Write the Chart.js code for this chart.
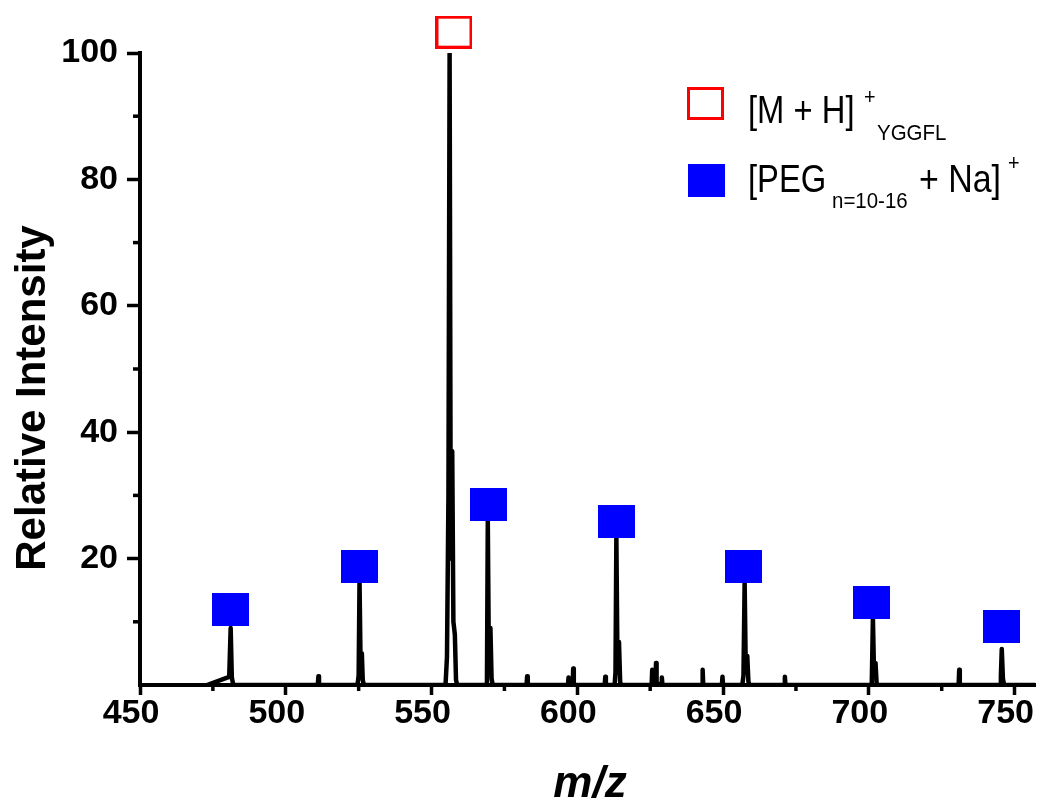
<!DOCTYPE html>
<html>
<head>
<meta charset="utf-8">
<title>YGGFL / PEG spectrum</title>
<script src="https://cdn.jsdelivr.net/npm/chart.js@4.4.0/dist/chart.umd.min.js"></script>
<style>
    body { margin: 0; background: #ffffff; }
    canvas { display: block; }
</style>
</head>
<body>
<canvas id="spectrum_canvas" width="1041" height="805"></canvas>
<script>
// spectrum trace (m/z, relative intensity)
const mz = [
    473.0, 480.6, 481.1, 481.5, 482.0,
    511.0, 511.2, 511.4,
    524.6, 525.0, 525.3, 525.7, 526.1, 526.4, 526.8,
    554.8, 555.3, 555.8, 556.2, 556.6, 557.1, 557.5, 558.0, 558.4, 558.8,
    569.0, 569.3, 569.7, 570.2, 570.6, 571.0,
    582.6, 582.8, 583.0,
    596.8, 597.0, 597.2, 598.4, 598.6, 598.8,
    609.4, 609.6, 609.8,
    612.8, 613.1, 613.4, 613.8, 614.3, 614.7, 615.0,
    625.5, 625.7, 626.0, 626.8, 627.0, 627.2, 628.8, 629.0, 629.2,
    642.8, 643.0, 643.2,
    649.6, 649.8, 650.0,
    656.6, 657.0, 657.4, 657.8, 658.3, 658.7, 659.1,
    671.0, 671.2, 671.4,
    701.0, 701.4, 701.8, 702.3, 702.7,
    730.8, 731.0, 731.2,
    745.0, 745.3, 745.6, 746.0, 746.4,
    757.0
];
const intensity = [
    0, 1.3, 9.0, 1.2, 0,
    0, 1.4, 0,
    0, 1.5, 16.5, 2.0, 5.0, 0.8, 0,
    0, 4.5, 30, 100, 20, 37, 10, 8, 0.8, 0,
    0, 26, 2, 9, 1, 0,
    0, 1.4, 0,
    0, 1.2, 0, 0, 2.6, 0,
    0, 1.3, 0,
    0, 2.0, 23.5, 2, 6.8, 0.5, 0,
    0, 2.4, 0.3, 0.3, 3.5, 0.3, 0, 1.2, 0,
    0, 2.4, 0,
    0, 1.3, 0,
    0, 1.5, 16.2, 2, 4.6, 0.5, 0,
    0, 1.3, 0,
    0, 10.6, 1.5, 3.5, 0,
    0, 2.4, 0,
    0, 1.5, 5.7, 1, 0,
    0
];

// [PEG(n=10-16) + Na]+ markers
const peg_mz = [481.1, 525.3, 569.7, 613.6, 657.0, 701.0, 745.6];
const peg_marker = [12.0, 18.8, 28.5, 25.8, 18.7, 13.1, 9.2];

// [M + H]+ of YGGFL
const yggfl_mz = [557.7];
const yggfl_marker = [103.3];

const x_min = 450, x_max = 757, x_step = 50;
const y_min = 0, y_max = 100, y_step = 20;
const x_minor_ticks = [475, 525, 575, 625, 675, 725];
const y_minor_ticks = [10, 30, 50, 70, 90];

function make_square(fill, stroke) {
    const c = document.createElement('canvas');
    c.width = 37;
    c.height = 33;
    const g = c.getContext('2d');
    if (fill) {
        g.fillStyle = fill;
        g.fillRect(0, 0, 37, 33);
    }
    if (stroke) {
        g.strokeStyle = stroke;
        g.lineWidth = 3;
        g.strokeRect(1.5, 1.5, 34, 30);
    }
    return c;
}

const red_square = make_square(null, '#ff0000');
const blue_square = make_square('#0000ff', null);

const bold_font = '"Liberation Sans", Arial, sans-serif';
const legend_font = '"Liberation Sans", Arial, sans-serif';

// minor ticks, axis titles
const axis_extras = {
    id: 'axis_extras',
    afterDraw(chart) {
        const ctx = chart.ctx;
        const area = chart.chartArea;
        const x = chart.scales.x;
        const y = chart.scales.y;

        ctx.save();
        ctx.strokeStyle = '#000';
        ctx.lineWidth = 3.5;
        for (const v of y_minor_ticks) {
            const py = y.getPixelForValue(v);
            ctx.beginPath();
            ctx.moveTo(area.left - 7, py);
            ctx.lineTo(area.left, py);
            ctx.stroke();
        }
        for (const v of x_minor_ticks) {
            const px = x.getPixelForValue(v);
            ctx.beginPath();
            ctx.moveTo(px, area.bottom);
            ctx.lineTo(px, area.bottom + 6);
            ctx.stroke();
        }

        ctx.fillStyle = '#000';
        ctx.font = 'bold 42px ' + bold_font;
        ctx.textAlign = 'center';
        ctx.textBaseline = 'alphabetic';
        ctx.save();
        ctx.translate(45, 398);
        ctx.rotate(-Math.PI / 2);
        ctx.fillText('Relative Intensity', 0, 0);
        ctx.restore();

        ctx.font = 'italic bold 44px ' + bold_font;
        ctx.fillText('m/z', 590, 797);
        ctx.restore();
    }
};

// condensed text, like a narrow face
function fill_narrow(ctx, text, x, y, squeeze) {
    ctx.save();
    ctx.translate(x, y);
    ctx.scale(squeeze, 1);
    ctx.fillText(text, 0, 0);
    ctx.restore();
}

// legend with sub/superscripts
const spectrum_legend = {
    id: 'spectrum_legend',
    afterDraw(chart) {
        const ctx = chart.ctx;
        ctx.save();
        ctx.drawImage(red_square, 687, 87);
        ctx.drawImage(blue_square, 688, 164);

        ctx.fillStyle = '#000';
        ctx.textAlign = 'left';
        ctx.textBaseline = 'alphabetic';

        ctx.font = '39px ' + legend_font;
        fill_narrow(ctx, '[M + H]', 748, 123, 0.84);
        fill_narrow(ctx, '[PEG', 748, 192, 0.84);
        fill_narrow(ctx, '+ Na]', 919, 192, 0.87);

        ctx.font = '22px ' + legend_font;
        fill_narrow(ctx, '+', 864, 104, 0.9);
        fill_narrow(ctx, 'YGGFL', 877, 140, 0.93);
        fill_narrow(ctx, 'n=10-16', 832, 208, 0.93);
        fill_narrow(ctx, '+', 1008, 170, 0.9);
        ctx.restore();
    }
};

const trace = mz.map((m, i) => ({x: m, y: intensity[i]}));
const peg_points = peg_mz.map((m, i) => ({x: m, y: peg_marker[i]}));
const yggfl_points = yggfl_mz.map((m, i) => ({x: m, y: yggfl_marker[i]}));

const config = {
    type: 'scatter',
    data: {
        datasets: [
            {
                label: '[M + H]+ YGGFL',
                data: yggfl_points,
                pointStyle: red_square,
                pointRadius: 30,
                clip: false,
                order: 0
            },
            {
                label: '[PEG n=10-16 + Na]+',
                data: peg_points,
                pointStyle: blue_square,
                pointRadius: 18,
                clip: false,
                order: 1
            },
            {
                label: 'spectrum',
                data: trace,
                showLine: true,
                borderColor: '#000000',
                borderWidth: 4.5,
                borderJoinStyle: 'round',
                borderCapStyle: 'round',
                pointRadius: 0,
                tension: 0,
                order: 2
            }
        ]
    },
    options: {
        responsive: false,
        animation: false,
        events: [],
        layout: {
            autoPadding: false,
            padding: {left: 0, top: 53, right: 6, bottom: 0}
        },
        plugins: {
            legend: {display: false},
            tooltip: {enabled: false},
            title: {display: false}
        },
        scales: {
            x: {
                type: 'linear',
                min: x_min,
                max: x_max,
                afterFit: (scale) => {
                    scale.height = 120;
                    scale.paddingLeft = 0;
                    scale.paddingRight = 0;
                },
                border: {display: true, color: '#000', width: 4},
                grid: {
                    drawOnChartArea: false,
                    drawTicks: true,
                    tickLength: 10,
                    tickWidth: 3.5,
                    tickColor: '#000'
                },
                ticks: {
                    stepSize: x_step,
                    includeBounds: false,
                    color: '#000',
                    padding: 2,
                    labelOffset: -9,
                    maxRotation: 0,
                    font: {family: bold_font, size: 34, weight: 'bold', lineHeight: 1}
                }
            },
            y: {
                type: 'linear',
                min: y_min,
                max: y_max,
                afterFit: (scale) => {
                    scale.width = 140;
                    scale.paddingTop = 0;
                    scale.paddingBottom = 0;
                },
                border: {display: true, color: '#000', width: 4},
                grid: {
                    drawOnChartArea: false,
                    drawTicks: true,
                    tickLength: 13,
                    tickWidth: 3.5,
                    tickColor: (ctx) => (ctx.tick && ctx.tick.value === 0 ? 'rgba(0,0,0,0)' : '#000')
                },
                ticks: {
                    stepSize: y_step,
                    color: '#000',
                    padding: 9,
                    callback: (v) => (v === 0 ? '' : v),
                    font: {family: bold_font, size: 34, weight: 'bold'}
                }
            }
        }
    },
    plugins: [axis_extras, spectrum_legend]
};

const spectrum_plot = new Chart(
    document.getElementById('spectrum_canvas'),
    config
);
</script>
</body>
</html>
